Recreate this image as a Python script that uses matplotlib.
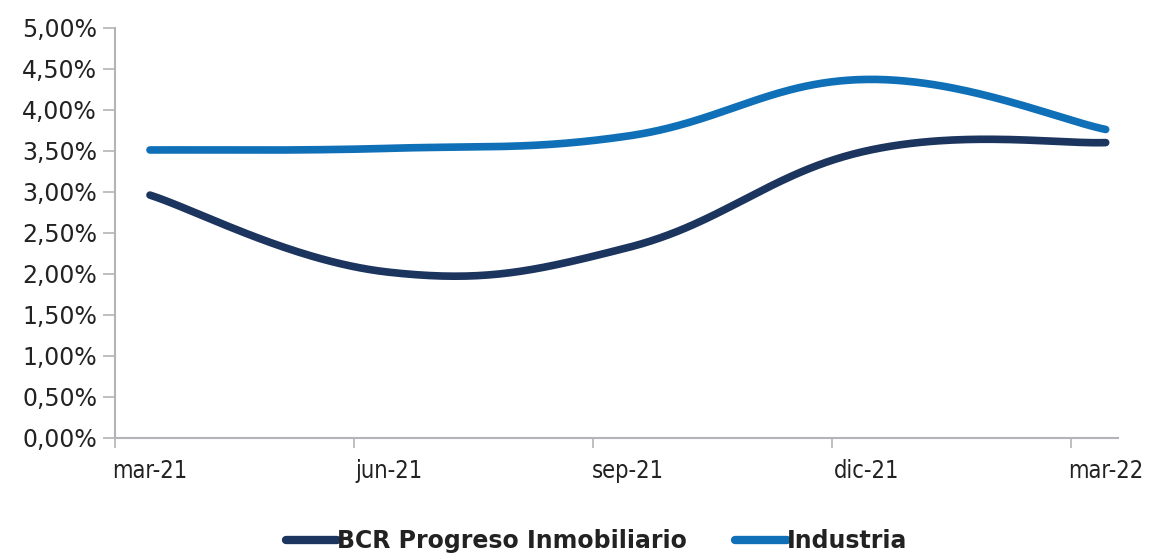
import numpy as np
import matplotlib
matplotlib.use("Agg")
import matplotlib.pyplot as plt
from matplotlib.ticker import FuncFormatter

plt.rcParams['font.family'] = ['DejaVu Sans']

meses = ["mar-21", "jun-21", "sep-21", "dic-21", "mar-22"]
bcr = [2.96, 2.02, 2.32, 3.50, 3.60]
industria = [3.51, 3.53, 3.68, 4.37, 3.76]

c_bcr = "#1c355e"
c_ind = "#0f70b7"
gris = "#b4b4b8"


def suavizar(y, f=0.2, n=60):
    # curva suavizada tipo excel (bezier cubica)
    y = np.asarray(y, float)
    x = np.arange(len(y), dtype=float)
    xs, ys = [], []
    for i in range(len(y) - 1):
        p0 = np.array([x[max(i - 1, 0)], y[max(i - 1, 0)]])
        p1 = np.array([x[i], y[i]])
        p2 = np.array([x[i + 1], y[i + 1]])
        p3 = np.array([x[min(i + 2, len(y) - 1)], y[min(i + 2, len(y) - 1)]])
        c1 = p1 + (p2 - p0) * f
        c2 = p2 - (p3 - p1) * f
        t = np.linspace(0, 1, n)[:, None]
        pts = (1 - t) ** 3 * p1 + 3 * (1 - t) ** 2 * t * c1 + 3 * (1 - t) * t ** 2 * c2 + t ** 3 * p2
        xs.extend(pts[:, 0]); ys.extend(pts[:, 1])
    return np.array(xs), np.array(ys)


fig = plt.figure(figsize=(11.51, 5.55), dpi=100)
ax = fig.add_axes([0.1, 0.211, 0.871, 0.739])

for serie, col, nombre in [(bcr, c_bcr, "BCR Progreso Inmobiliario"), (industria, c_ind, "Industria")]:
    xs, ys = suavizar(serie)
    ax.plot(xs, ys, color=col, lw=5.5, solid_capstyle='round', label=nombre)

off = 0.146
ax.set_xlim(-off, len(meses) - 1 + 0.05)
ax.set_ylim(0, 5)
ax.set_yticks(np.arange(0, 5.01, 0.5))
ax.yaxis.set_major_formatter(FuncFormatter(lambda v, p: ("%.2f%%" % v).replace(".", ",")))
ax.set_xticks(np.arange(len(meses)) - off)
ax.set_xticklabels([])
ax.set_xticks(np.arange(len(meses)), minor=True)
ax.set_xticklabels(meses, minor=True, fontstretch='condensed', fontsize=17, color="#222222")
ax.tick_params(axis='x', which='minor', length=0, pad=15)
ax.tick_params(axis='x', which='major', length=7, color=gris, width=1.2)
ax.tick_params(axis='y', length=9, color=gris, width=1.2, pad=4, labelsize=17, labelcolor="#222222")

for s in ["top", "right"]:
    ax.spines[s].set_visible(False)
for s in ["left", "bottom"]:
    ax.spines[s].set_color(gris)
    ax.spines[s].set_linewidth(1.5)

leg = fig.legend(loc='lower center', bbox_to_anchor=(0.518, -0.035), ncol=2, frameon=False,
                 handlelength=2.2, columnspacing=2.0, handletextpad=0.0,
                 prop={'weight': 'bold', 'size': 17})
for h in leg.get_lines():
    h.set_linewidth(6)
for t in leg.get_texts():
    t.set_color("#222222")

fig.savefig("out.png", dpi=100)
